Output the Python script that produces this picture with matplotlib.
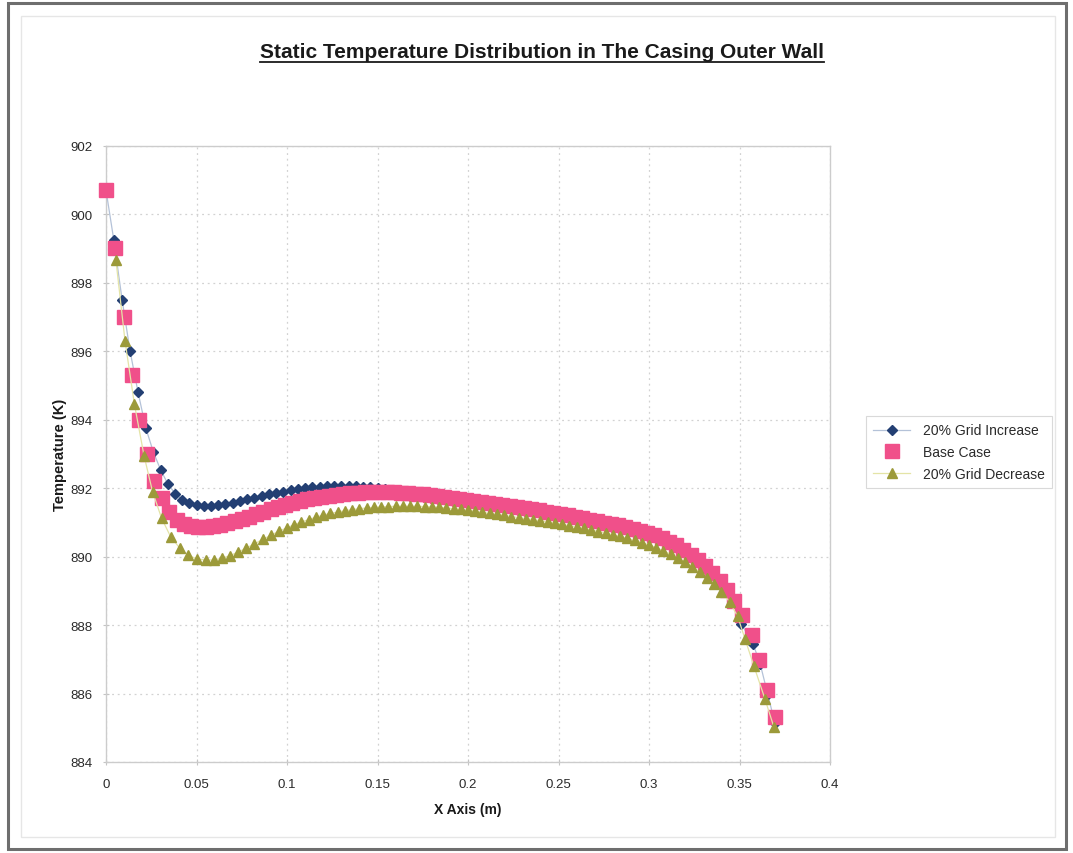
import matplotlib
matplotlib.use("Agg")
import matplotlib.pyplot as plt
from matplotlib.lines import Line2D
from matplotlib.patches import Rectangle
from matplotlib import font_manager

# ---- data: position along the wall (m) and static temperature (K) ----
base_x = [
    0.0, 0.005, 0.0098, 0.0141, 0.0183, 0.0225, 0.0267, 0.0308, 0.035, 0.039,
    0.043, 0.047, 0.051, 0.055, 0.059, 0.063, 0.067, 0.071, 0.075, 0.079,
    0.083, 0.087, 0.091, 0.095, 0.099, 0.103, 0.107, 0.111, 0.115, 0.119,
    0.123, 0.127, 0.131, 0.135, 0.139, 0.143, 0.147, 0.151, 0.155, 0.159,
    0.163, 0.167, 0.171, 0.175, 0.179, 0.183, 0.187, 0.191, 0.195, 0.199,
    0.203, 0.207, 0.211, 0.215, 0.219, 0.223, 0.227, 0.231, 0.235, 0.239,
    0.243, 0.247, 0.251, 0.255, 0.259, 0.263, 0.267, 0.271, 0.275, 0.279,
    0.283, 0.287, 0.291, 0.295, 0.299, 0.303, 0.307, 0.311, 0.315, 0.319,
    0.323, 0.327, 0.331, 0.335, 0.339, 0.343, 0.347, 0.3513, 0.3568, 0.3606,
    0.3652, 0.3698,
]
base_t = [
    900.7, 899.0, 897.0, 895.3, 894.0, 893.0, 892.2, 891.7, 891.3, 891.08,
    890.95, 890.88, 890.85, 890.86, 890.89, 890.93, 890.98, 891.04, 891.1, 891.17,
    891.24, 891.31, 891.38, 891.45, 891.51, 891.57, 891.62, 891.67, 891.71, 891.75,
    891.78, 891.81, 891.84, 891.86, 891.87, 891.88, 891.89, 891.89, 891.89, 891.88,
    891.87, 891.86, 891.84, 891.82, 891.8, 891.77, 891.74, 891.71, 891.68, 891.65,
    891.62, 891.59, 891.56, 891.53, 891.5, 891.47, 891.44, 891.41, 891.38, 891.35,
    891.31, 891.28, 891.24, 891.2, 891.16, 891.12, 891.07, 891.03, 890.99, 890.95,
    890.91, 890.86, 890.81, 890.75, 890.69, 890.62, 890.54, 890.44, 890.33, 890.2,
    890.06, 889.9, 889.72, 889.52, 889.29, 889.02, 888.7, 888.29, 887.7, 886.97,
    886.09, 885.3,
]

fine_x = [
    0.0, 0.0043, 0.0089, 0.0133, 0.0177, 0.022, 0.0262, 0.0302, 0.0342, 0.0382,
    0.0422, 0.046, 0.05, 0.054, 0.058, 0.062, 0.066, 0.07, 0.074, 0.078,
    0.082, 0.086, 0.09, 0.094, 0.098, 0.102, 0.106, 0.11, 0.114, 0.118,
    0.122, 0.126, 0.13, 0.134, 0.138, 0.142, 0.146, 0.15, 0.154, 0.158,
    0.162, 0.166, 0.17, 0.174, 0.178, 0.182, 0.186, 0.19, 0.194, 0.198,
    0.202, 0.206, 0.21, 0.214, 0.218, 0.222, 0.226, 0.23, 0.234, 0.238,
    0.242, 0.246, 0.25, 0.254, 0.258, 0.262, 0.266, 0.27, 0.274, 0.278,
    0.282, 0.286, 0.29, 0.294, 0.298, 0.302, 0.306, 0.31, 0.314, 0.318,
    0.322, 0.326, 0.33, 0.334, 0.338, 0.342, 0.346, 0.351, 0.3575, 0.3615,
    0.3655, 0.3695,
]
fine_t = [
    900.7, 899.25, 897.5, 896.0, 894.8, 893.75, 893.05, 892.53, 892.12, 891.84,
    891.66, 891.55, 891.5, 891.48, 891.48, 891.5, 891.53, 891.57, 891.62, 891.67,
    891.72, 891.77, 891.82, 891.86, 891.9, 891.94, 891.97, 892.0, 892.02, 892.04,
    892.05, 892.06, 892.06, 892.06, 892.05, 892.04, 892.02, 892.0, 891.97, 891.94,
    891.91, 891.88, 891.85, 891.82, 891.79, 891.76, 891.73, 891.7, 891.67, 891.64,
    891.61, 891.58, 891.55, 891.52, 891.49, 891.46, 891.43, 891.4, 891.37, 891.34,
    891.3, 891.27, 891.23, 891.19, 891.15, 891.11, 891.07, 891.02, 890.98, 890.94,
    890.9, 890.85, 890.8, 890.74, 890.68, 890.61, 890.53, 890.44, 890.33, 890.21,
    890.07, 889.92, 889.74, 889.53, 889.3, 889.03, 888.7, 888.03, 887.45, 886.85,
    886.0, 885.15,
]

coarse_x = [
    0.0055, 0.0105, 0.0157, 0.021, 0.0257, 0.0307, 0.0357, 0.0407, 0.0455,
    0.0502, 0.055, 0.0595, 0.064, 0.0685, 0.073, 0.0775, 0.082, 0.0865, 0.091,
    0.0955, 0.1, 0.104, 0.108, 0.112, 0.116, 0.12, 0.124, 0.128, 0.132,
    0.136, 0.14, 0.144, 0.148, 0.152, 0.156, 0.16, 0.164, 0.168, 0.172,
    0.176, 0.18, 0.184, 0.188, 0.192, 0.196, 0.2, 0.204, 0.208, 0.212,
    0.216, 0.22, 0.224, 0.228, 0.232, 0.236, 0.24, 0.244, 0.248, 0.252,
    0.256, 0.26, 0.264, 0.268, 0.272, 0.276, 0.28, 0.284, 0.288, 0.292,
    0.296, 0.3, 0.304, 0.308, 0.312, 0.316, 0.32, 0.324, 0.328, 0.332,
    0.336, 0.34, 0.3445, 0.349, 0.353, 0.358, 0.364, 0.369,
]
coarse_t = [
    898.65, 896.3, 894.45, 892.95, 891.9, 891.12, 890.58, 890.25, 890.04,
    889.93, 889.9, 889.9, 889.95, 890.03, 890.13, 890.25, 890.37, 890.5, 890.62,
    890.74, 890.84, 890.93, 891.01, 891.08, 891.15, 891.21, 891.26, 891.3, 891.34,
    891.37, 891.4, 891.42, 891.44, 891.45, 891.46, 891.47, 891.47, 891.47, 891.47,
    891.46, 891.45, 891.44, 891.42, 891.4, 891.38, 891.35, 891.32, 891.29, 891.26,
    891.23, 891.2, 891.17, 891.14, 891.11, 891.08, 891.05, 891.01, 890.98, 890.94,
    890.9, 890.86, 890.82, 890.78, 890.73, 890.69, 890.64, 890.59, 890.53, 890.47,
    890.41, 890.34, 890.26, 890.17, 890.07, 889.96, 889.84, 889.7, 889.55, 889.38,
    889.19, 888.97, 888.68, 888.25, 887.6, 886.8, 885.85, 885.02,
]

series_labels = ["20% Grid Increase", "Base Case", "20% Grid Decrease"]
x_ticks = [0, 0.05, 0.1, 0.15, 0.2, 0.25, 0.3, 0.35, 0.4]
x_tick_labels = ["0", "0.05", "0.1", "0.15", "0.2", "0.25", "0.3", "0.35", "0.4"]
y_ticks = [884, 886, 888, 890, 892, 894, 896, 898, 900, 902]

# ---- fonts ----
installed = {f.name for f in font_manager.fontManager.ttflist}
body_font = "Liberation Sans" if "Liberation Sans" in installed else "DejaVu Sans"
title_font = "Liberation Sans Narrow" if "Liberation Sans Narrow" in installed else body_font
plt.rcParams["font.family"] = [body_font, "DejaVu Sans"]

W, H = 1073, 854
fig = plt.figure(figsize=(W / 100, H / 100), dpi=100, facecolor="white")

# outer chart frame
fig.patches.append(Rectangle((8 / W, 4 / H), 1058 / W, 846 / H, transform=fig.transFigure,
                             fill=False, edgecolor="#6e6e6e", linewidth=2.2))
fig.patches.append(Rectangle((21 / W, 16 / H), 1034 / W, 821 / H, transform=fig.transFigure,
                             fill=False, edgecolor="#e6e6e6", linewidth=1.0))

ax = fig.add_axes([106 / W, 1 - 763 / H, 724 / W, (763 - 146.7) / H])
ax.set_facecolor("white")

c_fine = "#233f73"
c_base = "#f0508a"
c_coarse = "#9c9a3a"

ax.plot(fine_x, fine_t, color="#b4c2d8", linewidth=0.9, marker="D", markersize=5.2,
        markerfacecolor=c_fine, markeredgecolor=c_fine, label=series_labels[0],
        zorder=3, clip_on=False)
ax.plot(base_x, base_t, linestyle="none", marker="s", markersize=10.5,
        markerfacecolor=c_base, markeredgecolor=c_base, label=series_labels[1],
        zorder=4, clip_on=False)
ax.plot(coarse_x, coarse_t, color="#e4e4a6", linewidth=0.9, marker="^", markersize=7.5,
        markerfacecolor=c_coarse, markeredgecolor=c_coarse, label=series_labels[2],
        zorder=5, clip_on=False)

ax.set_xlim(0, 0.4)
ax.set_ylim(884, 902)
ax.set_xticks(x_ticks)
ax.set_xticklabels(x_tick_labels)
ax.set_yticks(y_ticks)

ax.grid(True, color="#d2d2d2", linestyle=(0, (1.5, 3)), linewidth=0.9)
ax.set_axisbelow(True)
for s in ax.spines.values():
    s.set_color("#cccccc")
    s.set_linewidth(1.0)

ax.tick_params(axis="both", which="major", direction="inout", length=5, width=0.8,
               color="#c4c4c4", labelsize=9.5, labelcolor="#2a2a2a")
ax.tick_params(axis="x", pad=9)
ax.tick_params(axis="y", pad=7)

ax.set_xlabel("X Axis (m)", fontsize=10, fontweight="bold", color="#1a1a1a", labelpad=9)
ax.set_ylabel("Temperature (K)", fontsize=10.5, fontweight="bold", color="#1a1a1a", labelpad=3)

title = fig.text(542 / W, 1 - 52 / H, "Static Temperature Distribution in The Casing Outer Wall",
                 ha="center", va="center", fontsize=15, fontweight="bold",
                 family=[title_font, "DejaVu Sans"], color="#1a1a1a")

leg = fig.legend(loc="center left", bbox_to_anchor=(866 / W, 1 - 453 / H), frameon=True,
                 fancybox=False, fontsize=10, handlelength=2.7, handletextpad=0.9,
                 labelspacing=0.55, borderpad=0.5, borderaxespad=0)
leg.get_frame().set_edgecolor("#d0d0d0")
leg.get_frame().set_linewidth(0.8)
for t in leg.get_texts():
    t.set_color("#2a2a2a")

# underline the title
fig.canvas.draw()
bb = title.get_window_extent(fig.canvas.get_renderer())
uy = (bb.y0 - 1.5) / H
fig.add_artist(Line2D([bb.x0 / W, bb.x1 / W], [uy, uy], transform=fig.transFigure,
                      color="#1a1a1a", linewidth=1.3))

fig.savefig("out.png", dpi=100, facecolor="white")
